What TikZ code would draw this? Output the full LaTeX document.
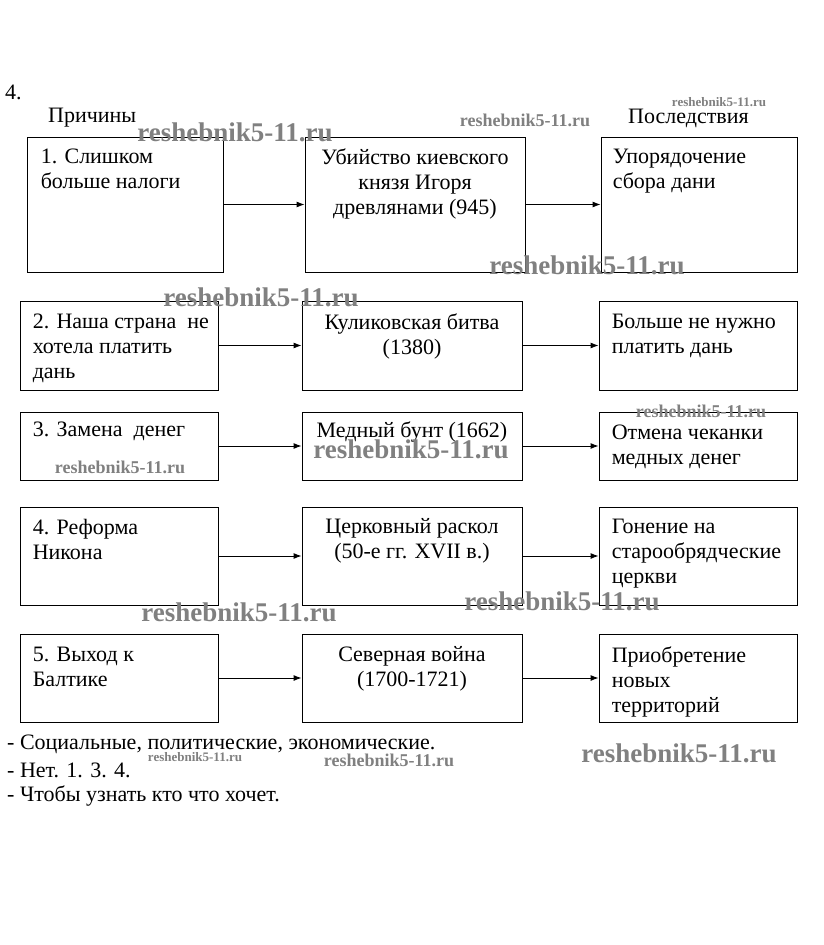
\documentclass[tikz,border=0pt]{standalone}
\usepackage{fontspec}
\setmainfont{Liberation Serif}
\usetikzlibrary{arrows.meta}
\tikzset{>={Latex[length=8pt,width=6pt]}}

\begin{document}
\begin{tikzpicture}[x=1pt,y=-1pt]
	\tikzstyle{box} = [draw=black, line width=0.9pt, inner sep=0pt]
	\tikzstyle{txt} = [inner sep=0pt, align=left, font=\fontsize{22}{25}\selectfont]
	\tikzstyle{mid} = [txt, align=center, anchor=north]
	\tikzstyle{edge} = [->, line width=0.9pt]
	\tikzstyle{wm} = [inner sep=0pt, text=black!50, font=\bfseries\fontsize{27}{27}\selectfont]
	\tikzstyle{wms} = [wm, font=\bfseries\fontsize{18}{18}\selectfont]
	\tikzstyle{wmt} = [wm, font=\bfseries\fontsize{13}{13}\selectfont]

	\fill[white] (0,0) rectangle (823,945);
	\useasboundingbox (0,0) rectangle (823,945);

%----------Заголовки------------------------------
	\node[txt, anchor=west] (num) at (5,92) {4.};
	\node[txt, anchor=west] (causes) at (48,118) {Причины};
	\node[txt, anchor=west] (effects) at (628,118) {Последствия};

%----------1------------------------------
	\node[box, minimum width=196, minimum height=135] (a1) at (125,204.5) {};
	\node[box, minimum width=220, minimum height=135] (b1) at (415,204.5) {};
	\node[box, minimum width=196, minimum height=135] (c1) at (699,204.5) {};

	\node[txt, anchor=north west] (ta1) at ([shift={(14pt,-12pt)}]a1.north west) {1. Слишком\\больше налоги};
	\node[mid] (tb1) at ([yshift=-12pt]b1.north) {Убийство киевского\\князя Игоря\\древлянами (945)};
	\node[txt, anchor=north west] (tc1) at ([shift={(12pt,-12pt)}]c1.north west) {Упорядочение\\сбора дани};

	\path[edge] (a1) edge (b1);
	\path[edge] (b1) edge (c1);

%----------2------------------------------
	\node[box, minimum width=198, minimum height=89] (a2) at (119,345.5) {};
	\node[box, minimum width=220, minimum height=89] (b2) at (412,345.5) {};
	\node[box, minimum width=198, minimum height=89] (c2) at (698,345.5) {};

	\node[txt, anchor=north west] (ta2) at ([shift={(13pt,-13pt)}]a2.north west) {2. Наша страна~ не\\хотела платить\\дань};
	\node[mid] (tb2) at ([yshift=-13pt]b2.north) {Куликовская битва\\(1380)};
	\node[txt, anchor=north west] (tc2) at ([shift={(13pt,-13pt)}]c2.north west) {Больше не нужно\\платить дань};

	\path[edge] (a2) edge (b2);
	\path[edge] (b2) edge (c2);

%----------3------------------------------
	\node[box, minimum width=198, minimum height=68] (a3) at (119,446) {};
	\node[box, minimum width=220, minimum height=68] (b3) at (412,446) {};
	\node[box, minimum width=198, minimum height=68] (c3) at (698,446) {};

	\node[txt, anchor=north west] (ta3) at ([shift={(13pt,-10pt)}]a3.north west) {3. Замена~ денег};
	\node[mid] (tb3) at ([yshift=-10pt]b3.north) {Медный бунт (1662)};
	\node[txt, anchor=north west] (tc3) at ([shift={(13pt,-13pt)}]c3.north west) {Отмена чеканки\\медных денег};

	\path[edge] (a3) edge (b3);
	\path[edge] (b3) edge (c3);

%----------4------------------------------
	\node[box, minimum width=198, minimum height=98] (a4) at (119,556) {};
	\node[box, minimum width=220, minimum height=98] (b4) at (412,556) {};
	\node[box, minimum width=198, minimum height=98] (c4) at (698,556) {};

	\node[txt, anchor=north west] (ta4) at ([shift={(13pt,-12pt)}]a4.north west) {4. Реформа\\Никона};
	\node[mid] (tb4) at ([yshift=-12pt]b4.north) {Церковный раскол\\(50-е гг. XVII в.)};
	\node[txt, anchor=north west] (tc4) at ([shift={(13pt,-12pt)}]c4.north west) {Гонение на\\старообрядческие\\церкви};

	\path[edge] (a4) edge (b4);
	\path[edge] (b4) edge (c4);

%----------5------------------------------
	\node[box, minimum width=198, minimum height=88] (a5) at (119,678) {};
	\node[box, minimum width=220, minimum height=88] (b5) at (412,678) {};
	\node[box, minimum width=198, minimum height=88] (c5) at (698,678) {};

	\node[txt, anchor=north west] (ta5) at ([shift={(13pt,-13pt)}]a5.north west) {5. Выход к\\Балтике};
	\node[mid] (tb5) at ([yshift=-13pt]b5.north) {Северная война\\(1700-1721)};
	\node[txt, anchor=north west] (tc5) at ([shift={(13pt,-13pt)}]c5.north west) {Приобретение\\новых\\территорий};

	\path[edge] (a5) edge (b5);
	\path[edge] (b5) edge (c5);

%----------Ответы------------------------------
	\node[txt, anchor=west] (ans1) at (7,744) {- Социальные, политические, экономические.};
	\node[txt, anchor=west] (ans2) at (7,770) {- Нет. 1. 3. 4.};
	\node[txt, anchor=west] (ans3) at (7,796) {- Чтобы узнать кто что хочет.};

%----------Водяные знаки------------------------------
	\node[wm] (w1) at (235,132) {reshebnik5-11.ru};
	\node[wm] (w2) at (587,265) {reshebnik5-11.ru};
	\node[wm] (w3) at (261,297) {reshebnik5-11.ru};
	\node[wm] (w4) at (411,449) {reshebnik5-11.ru};
	\node[wm] (w5) at (562,601) {reshebnik5-11.ru};
	\node[wm] (w6) at (239,612) {reshebnik5-11.ru};
	\node[wm] (w7) at (679,753) {reshebnik5-11.ru};
	\node[wms] (w8) at (525,120) {reshebnik5-11.ru};
	\node[wmt] (w9) at (719,102) {reshebnik5-11.ru};
	\node[wms] (w10) at (701,411) {reshebnik5-11.ru};
	\node[wms] (w11) at (120,467) {reshebnik5-11.ru};
	\node[wmt] (w12) at (195,757) {reshebnik5-11.ru};
	\node[wms] (w13) at (389,760) {reshebnik5-11.ru};
\end{tikzpicture}
\end{document}
